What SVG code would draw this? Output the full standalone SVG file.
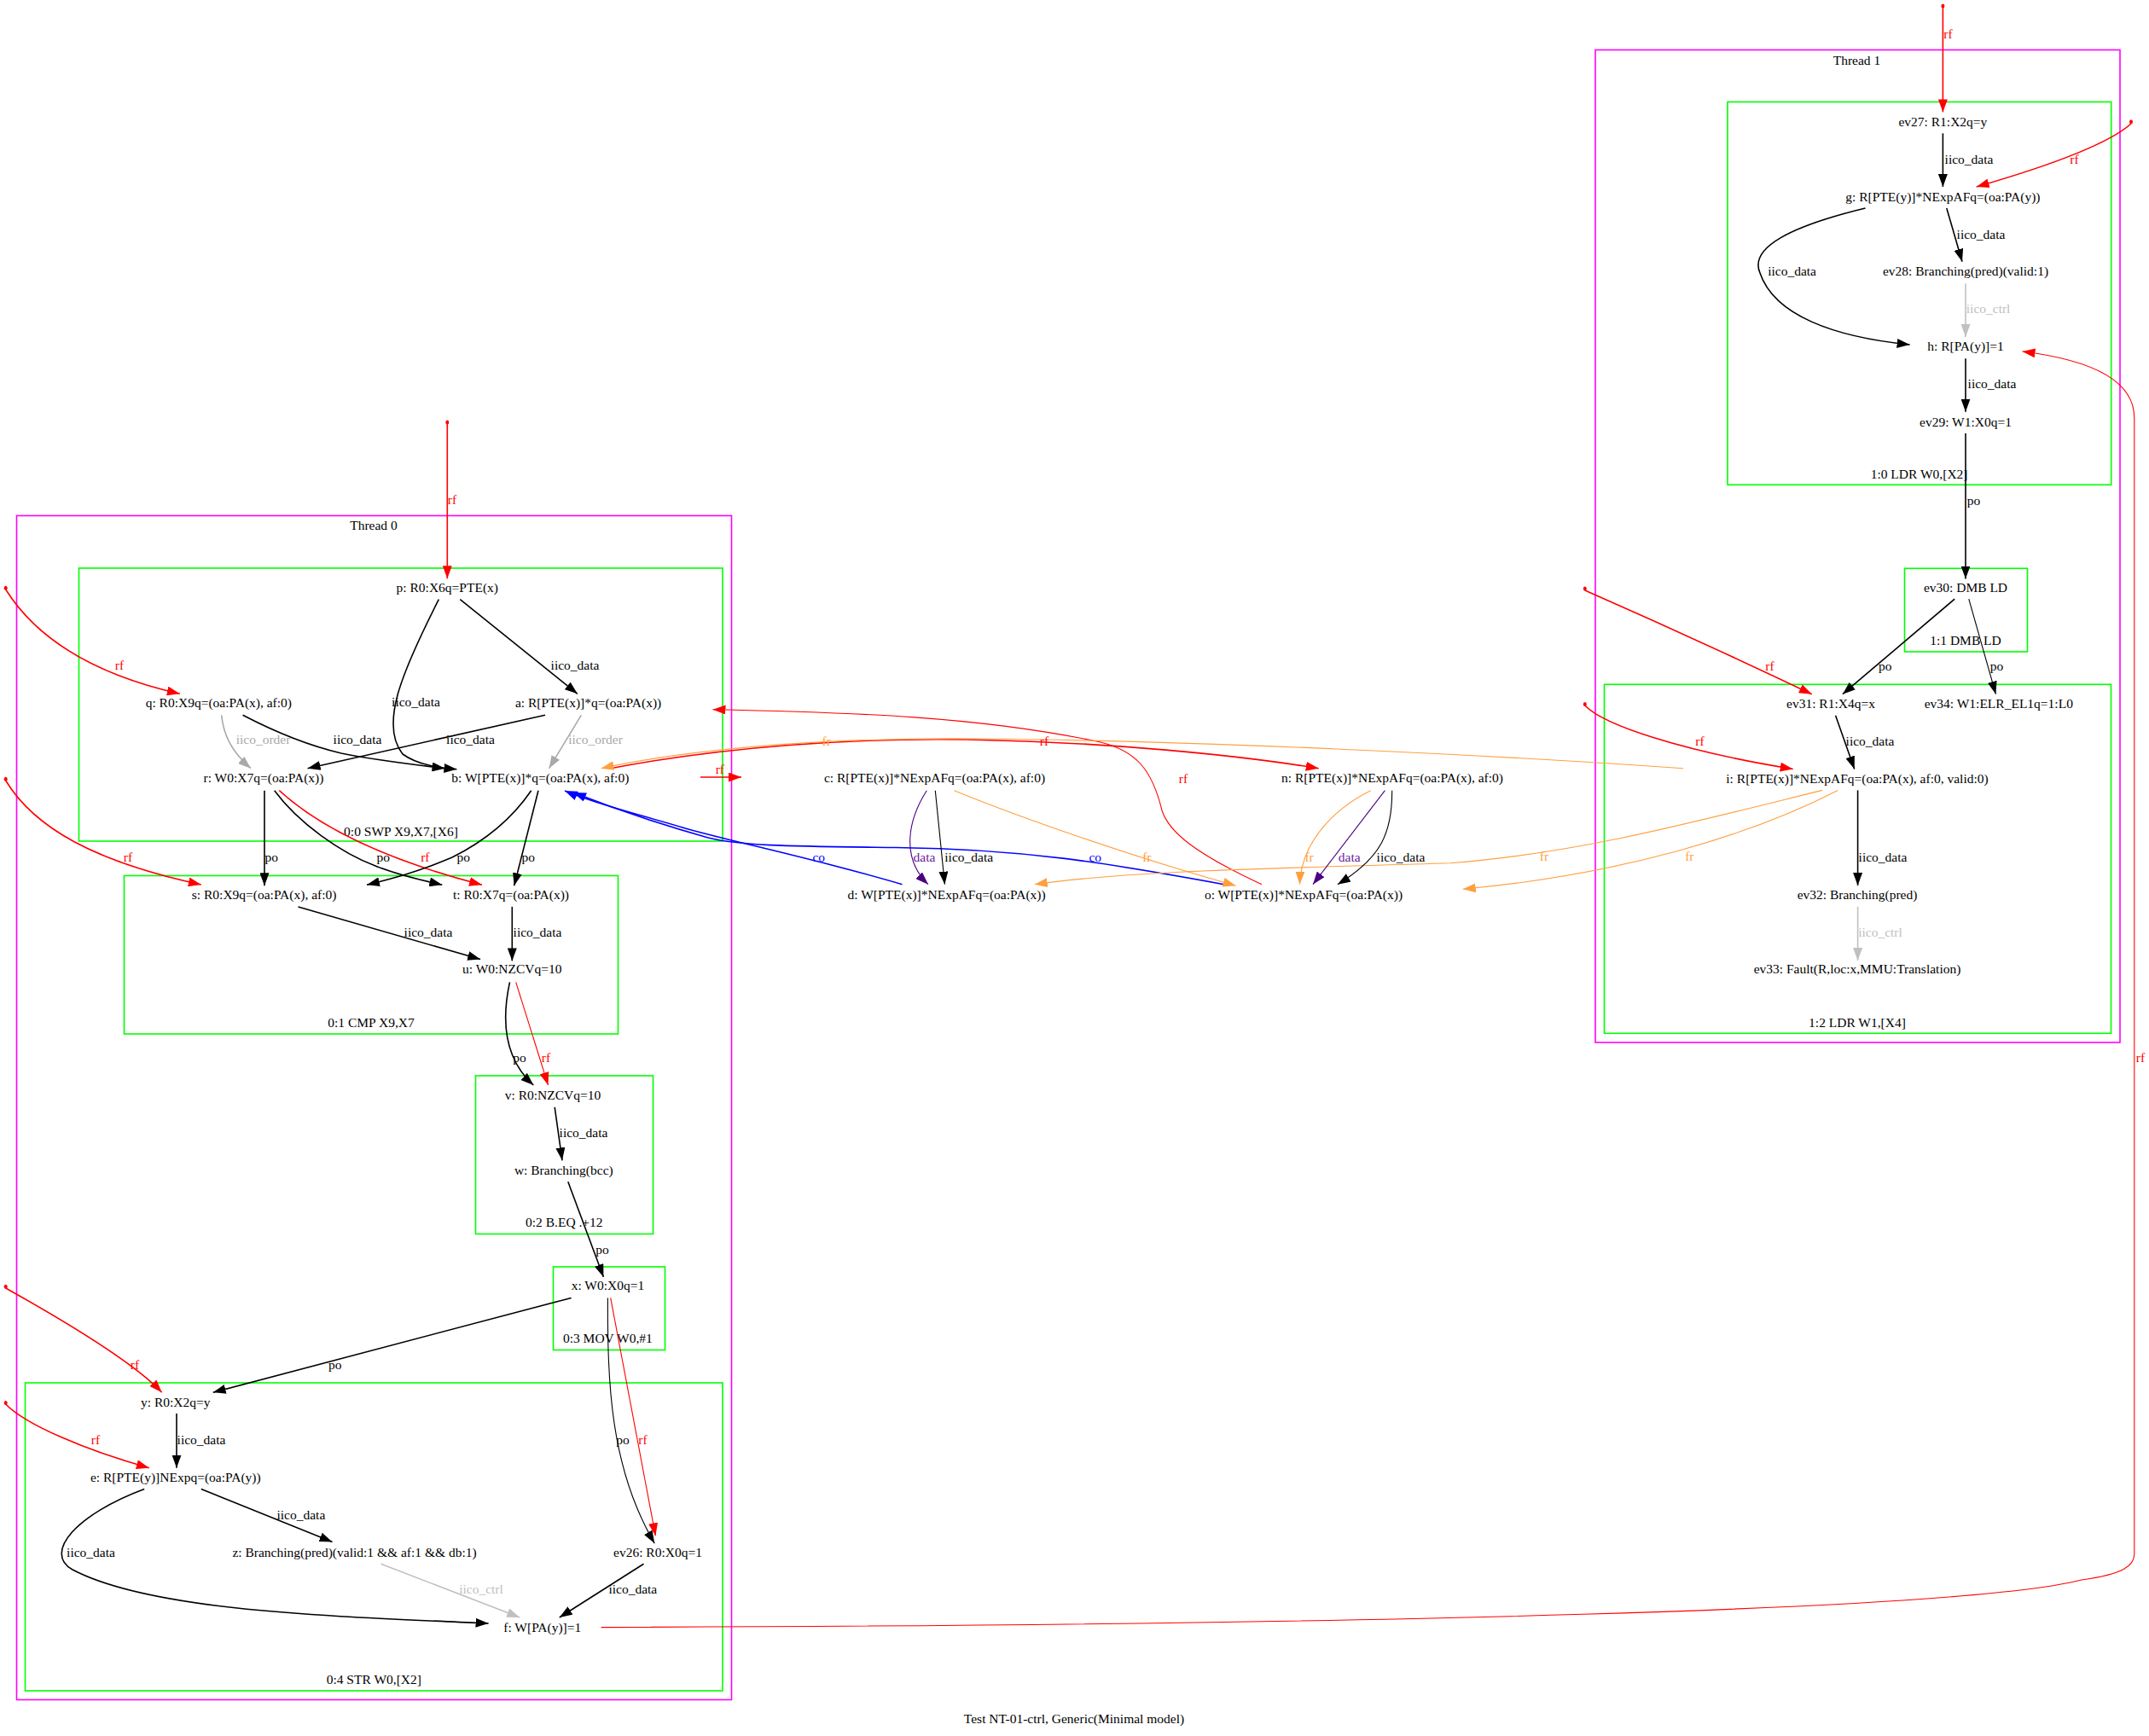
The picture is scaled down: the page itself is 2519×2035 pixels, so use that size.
<svg xmlns="http://www.w3.org/2000/svg" width="2519" height="2035" viewBox="0 0 2519 2035">
<style>
text{font-family:"Liberation Serif","Times New Roman",serif;font-size:15.5px;text-anchor:middle;fill:#000}
.cl{fill:none;stroke-width:1.6}
.th{stroke:#ff00ff}
.in{stroke:#00ff00}
.e{fill:none;stroke-width:1.6}
.thin{stroke-width:1.1}
.k{stroke:#000}
.r{stroke:#ff0000}
.g{stroke:#a9a9a9}
.l{stroke:#c0c0c0}
.o{stroke:#ff9f40}
.p{stroke:#4b0082}
.b{stroke:#0000ff}
.tr{fill:#ff0000}
.tg{fill:#a9a9a9}
.tl{fill:#c0c0c0}
.to{fill:#ff9f40}
.tp{fill:#6a1b9a}
.tb{fill:#0000ff}
.dot{fill:#ff0000}
</style>
<defs>
<marker id="ak" viewBox="0 0 15 11" refX="15" refY="5.5" markerWidth="15" markerHeight="11" markerUnits="userSpaceOnUse" orient="auto"><path d="M0,0 L15,5.5 L0,11 z" fill="#000"/></marker>
<marker id="ar" viewBox="0 0 15 11" refX="15" refY="5.5" markerWidth="15" markerHeight="11" markerUnits="userSpaceOnUse" orient="auto"><path d="M0,0 L15,5.5 L0,11 z" fill="#ff0000"/></marker>
<marker id="ag" viewBox="0 0 15 11" refX="15" refY="5.5" markerWidth="15" markerHeight="11" markerUnits="userSpaceOnUse" orient="auto"><path d="M0,0 L15,5.5 L0,11 z" fill="#a9a9a9"/></marker>
<marker id="al" viewBox="0 0 15 11" refX="15" refY="5.5" markerWidth="15" markerHeight="11" markerUnits="userSpaceOnUse" orient="auto"><path d="M0,0 L15,5.5 L0,11 z" fill="#c0c0c0"/></marker>
<marker id="ao" viewBox="0 0 15 11" refX="15" refY="5.5" markerWidth="15" markerHeight="11" markerUnits="userSpaceOnUse" orient="auto"><path d="M0,0 L15,5.5 L0,11 z" fill="#ff9f40"/></marker>
<marker id="ap" viewBox="0 0 15 11" refX="15" refY="5.5" markerWidth="15" markerHeight="11" markerUnits="userSpaceOnUse" orient="auto"><path d="M0,0 L15,5.5 L0,11 z" fill="#4b0082"/></marker>
<marker id="ab" viewBox="0 0 15 11" refX="15" refY="5.5" markerWidth="15" markerHeight="11" markerUnits="userSpaceOnUse" orient="auto"><path d="M0,0 L15,5.5 L0,11 z" fill="#0000ff"/></marker>
</defs>
<rect width="2519" height="2035" fill="#fff"/>

<g id="clusters">
<g id="thread0"><rect class="cl th" x="19.5" y="604.5" width="838" height="1388"/><text x="438" y="621">Thread 0</text></g>
<g id="c0_0"><rect class="cl in" x="92.5" y="666" width="754.5" height="320"/><text x="470" y="980">0:0 SWP X9,X7,[X6]</text></g>
<g id="c0_1"><rect class="cl in" x="145.5" y="1026.5" width="579" height="185.5"/><text x="435" y="1203.5">0:1 CMP X9,X7</text></g>
<g id="c0_2"><rect class="cl in" x="557.5" y="1261" width="208" height="185.5"/><text x="661.3" y="1437.8">0:2 B.EQ .+12</text></g>
<g id="c0_3"><rect class="cl in" x="648.5" y="1485" width="131" height="97.5"/><text x="712.4" y="1573.5">0:3 MOV W0,#1</text></g>
<g id="c0_4"><rect class="cl in" x="29.5" y="1621" width="817.5" height="361"/><text x="438.3" y="1973.5">0:4 STR W0,[X2]</text></g>
<g id="thread1"><rect class="cl th" x="1870" y="58.5" width="615" height="1163.5"/><text x="2176.5" y="75.6">Thread 1</text></g>
<g id="c1_0"><rect class="cl in" x="2025" y="119.5" width="449.7" height="448.8"/><text x="2249.6" y="560.7">1:0 LDR W0,[X2]</text></g>
<g id="c1_1"><rect class="cl in" x="2232.5" y="666.3" width="144" height="97.7"/><text x="2304" y="755.5">1:1 DMB LD</text></g>
<g id="c1_2"><rect class="cl in" x="1880.5" y="802.3" width="594" height="409"/><text x="2177" y="1203.5">1:2 LDR W1,[X4]</text></g>
</g>

<g id="edges">
<g id="sources">
<ellipse class="dot" cx="524.3" cy="495" rx="2" ry="2.5"/>
<ellipse class="dot" cx="6.7" cy="689.3" rx="2" ry="2.5"/>
<ellipse class="dot" cx="6.7" cy="913.3" rx="2" ry="2.5"/>
<ellipse class="dot" cx="6.7" cy="1508.3" rx="2" ry="2.5"/>
<ellipse class="dot" cx="6.7" cy="1644.6" rx="2" ry="2.5"/>
<ellipse class="dot" cx="2277.4" cy="7" rx="2" ry="2.5"/>
<ellipse class="dot" cx="2498" cy="142.8" rx="2" ry="2.5"/>
<ellipse class="dot" cx="1857.8" cy="690" rx="2" ry="2.5"/>
<ellipse class="dot" cx="1857.8" cy="825.6" rx="2" ry="2.5"/>
</g>
<!-- Thread 0 -->
<path class="e r" marker-end="url(#ar)" d="M524.3,497 L524.3,678.3"/>
<path class="e k" marker-end="url(#ak)" d="M539.3,702.7 L676.9,813.3"/>
<path class="e k" marker-end="url(#ak)" d="M514.3,702.7 C470,790 445,850 472,884 C490,897 515,900 535.4,901.7"/>
<path class="e r" marker-end="url(#ar)" d="M6.7,691 C50,760 130,795 210.8,813.3"/>
<path class="e k" marker-end="url(#ak)" d="M284.6,838.3 C330,862 370,876 400,883 C440,891 490,897 521.5,900.7"/>
<path class="e k" marker-end="url(#ak)" d="M639,838.3 L360.6,900.7"/>
<path class="e g" marker-end="url(#ag)" d="M259.6,838.3 C262,860 270,880 294,900.7"/>
<path class="e g" marker-end="url(#ag)" d="M681.3,838.3 L643.6,900.7"/>
<path class="e r" marker-end="url(#ar)" d="M821,911 L869,911"/>
<path class="e k" marker-end="url(#ak)" d="M310,926.7 L310,1038.3"/>
<path class="e k" marker-end="url(#ak)" d="M321.7,926.7 C350,965 400,1000 440,1015 C470,1027 500,1033 518.3,1037.3"/>
<path class="e r" marker-end="url(#ar)" d="M327.3,926.7 C380,975 460,1010 565,1037.3"/>
<path class="e k" marker-end="url(#ak)" d="M622.7,926.7 C600,960 570,985 530,1005 C490,1022 460,1030 430,1037.3"/>
<path class="e k" marker-end="url(#ak)" d="M631,926.7 L602.7,1038.3"/>
<path class="e r" marker-end="url(#ar)" d="M6.7,915 C40,970 110,1010 235.8,1037"/>
<path class="e k" marker-end="url(#ak)" d="M349.5,1062.9 L563.1,1124.6"/>
<path class="e k" marker-end="url(#ak)" d="M600.3,1062.9 L600.3,1126.4"/>
<path class="e k" marker-end="url(#ak)" d="M597.5,1151.4 C588,1195 590,1240 625.3,1272"/>
<path class="e r thin" marker-end="url(#ar)" d="M604.7,1151.4 L642.5,1272"/>
<path class="e k" marker-end="url(#ak)" d="M650.2,1297.8 L659,1360.3"/>
<path class="e k" marker-end="url(#ak)" d="M665.8,1385.3 L707.4,1497"/>
<path class="e k" marker-end="url(#ak)" d="M669.6,1521.4 L249.7,1632.2"/>
<path class="e r" marker-end="url(#ar)" d="M6.7,1510 Q150,1590 189.7,1632.2"/>
<path class="e r" marker-end="url(#ar)" d="M6.7,1646 C30,1670 100,1700 174.8,1720.7"/>
<path class="e k" marker-end="url(#ak)" d="M207,1657 L207,1720.7"/>
<path class="e k" marker-end="url(#ak)" d="M235.8,1745.5 L389.5,1807.5"/>
<path class="e k" marker-end="url(#ak)" d="M169.2,1745.5 C90,1775 50,1820 85,1840 C180,1890 400,1895 572.6,1903"/>
<path class="e l" marker-end="url(#al)" d="M446.6,1833.3 L609.2,1896"/>
<path class="e k" marker-end="url(#ak)" d="M754.5,1833.3 L655.8,1896"/>
<path class="e k thin" marker-end="url(#ak)" d="M712.4,1521.4 C712,1620 715,1720 767.3,1809.2"/>
<path class="e r thin" marker-end="url(#ar)" d="M715.7,1521.4 L768.4,1800.4"/>
<path class="e r thin" marker-end="url(#ar)" d="M704.6,1907.6 C1600,1905 2300,1888 2440,1852 C2490,1845 2501.8,1835 2501.8,1821.6 L2501.8,490 C2501.8,450 2460,423 2370.5,412"/>
<!-- Thread 1 -->
<path class="e r" marker-end="url(#ar)" d="M2277.4,9 L2277.4,131.4"/>
<path class="e k" marker-end="url(#ak)" d="M2277.4,156.3 L2277.4,219"/>
<path class="e r" marker-end="url(#ar)" d="M2498,145 C2470,170 2400,195 2316.7,219"/>
<path class="e k" marker-end="url(#ak)" d="M2281.8,244 L2300,306.8"/>
<path class="e k" marker-end="url(#ak)" d="M2186.5,244 C2100,265 2050,290 2063,320 C2080,370 2150,395 2238.6,404"/>
<path class="e l" marker-end="url(#al)" d="M2304,332.5 L2304,395"/>
<path class="e k" marker-end="url(#ak)" d="M2304,420.2 L2304,482.7"/>
<path class="e k" marker-end="url(#ak)" d="M2304,508 L2304,678.5"/>
<path class="e k" marker-end="url(#ak)" d="M2291.2,702.2 L2159.9,813.7"/>
<path class="e k thin" marker-end="url(#ak)" d="M2307.8,702.2 L2339.4,813.7"/>
<path class="e r" marker-end="url(#ar)" d="M1857.8,692 Q1990,750 2123.8,813.7"/>
<path class="e r" marker-end="url(#ar)" d="M1857.8,827 C1880,850 1970,880 2101.7,901.5"/>
<path class="e k" marker-end="url(#ak)" d="M2151.6,838.7 L2173.7,901.5"/>
<path class="e k" marker-end="url(#ak)" d="M2177.6,926.4 L2177.6,1038"/>
<path class="e l" marker-end="url(#al)" d="M2177.6,1062.8 L2177.6,1126"/>
<!-- between threads -->
<path class="e r thin" marker-end="url(#ar)" d="M1479,1036.7 C1400,1000 1370,975 1362,950 C1350,900 1330,880 1290,870 C1150,840 1000,835 835.5,831.7"/>
<path class="e r" marker-end="url(#ar)" d="M715.7,900.7 C850,875 1000,865 1135,867 C1300,870 1450,885 1545.7,900.7"/>
<path class="e o thin" marker-end="url(#ao)" d="M1973,900.7 C1750,885 1400,868 1150,866 C950,864 800,880 704.6,900.7"/>
<path class="e b" marker-end="url(#ab)" d="M1057.5,1036.7 C950,1005 850,985 800,970 C750,955 700,943 662,927"/>
<path class="e b" marker-end="url(#ab)" d="M1434.7,1036.7 C1300,1012 1200,995 1050,993.5 C930,992 870,992 830,982 C780,968 720,948 672,929"/>
<path class="e o thin" marker-end="url(#ao)" d="M1118.5,926.7 C1200,960 1330,1005 1448.6,1038.3"/>
<path class="e o thin" marker-end="url(#ao)" d="M2136,926.4 C1980,965 1850,1000 1700,1011.7 C1500,1018 1330,1020 1212.8,1036.7"/>
<path class="e o thin" marker-end="url(#ao)" d="M2154.3,926.4 C2050,980 1900,1025 1714.8,1042.3"/>
<path class="e o thin" marker-end="url(#ao)" d="M1606.7,926.7 C1560,950 1525,990 1523.5,1036.7"/>
<path class="e p thin" marker-end="url(#ap)" d="M1623.4,926.7 L1539,1036.7"/>
<path class="e k thin" marker-end="url(#ak)" d="M1631.7,926.7 C1632,975 1620,1005 1567.9,1036.7"/>
<path class="e p thin" marker-end="url(#ap)" d="M1086.3,926.7 C1065,960 1055,1005 1088,1036.7"/>
<path class="e k thin" marker-end="url(#ak)" d="M1096.3,926.7 L1107.4,1036.7"/>

<g id="edge-labels">
<text class="tr" x="530" y="591">rf</text>
<text x="674" y="784.5">iico_data</text>
<text x="487.5" y="828">iico_data</text>
<text class="tr" x="140" y="784.5">rf</text>
<text class="tg" x="308.5" y="872">iico_order</text>
<text x="419" y="872">iico_data</text>
<text x="551.5" y="872">iico_data</text>
<text class="tg" x="698" y="872">iico_order</text>
<text class="tr" x="843.8" y="906.7">rf</text>
<text x="318.3" y="1010">po</text>
<text x="449.3" y="1010">po</text>
<text class="tr" x="498.3" y="1010">rf</text>
<text x="543.3" y="1010">po</text>
<text x="619.3" y="1010">po</text>
<text class="tr" x="150" y="1010">rf</text>
<text x="502" y="1097.8">iico_data</text>
<text x="630" y="1097.8">iico_data</text>
<text x="609" y="1245">po</text>
<text class="tr" x="640" y="1245">rf</text>
<text x="684" y="1332.5">iico_data</text>
<text x="706" y="1469.6">po</text>
<text x="392.8" y="1605.4">po</text>
<text class="tr" x="158" y="1604.7">rf</text>
<text class="tr" x="112" y="1692.8">rf</text>
<text x="236" y="1692.8">iico_data</text>
<text x="730" y="1692.8">po</text>
<text class="tr" x="753.4" y="1692.8">rf</text>
<text x="352.9" y="1781">iico_data</text>
<text x="106.5" y="1824.8">iico_data</text>
<text class="tl" x="564" y="1868.4">iico_ctrl</text>
<text x="741.8" y="1868.4">iico_data</text>
<text class="to" x="968.7" y="874.3">fr</text>
<text class="tr" x="1224" y="874.3">rf</text>
<text class="tr" x="1387" y="917.7">rf</text>
<text class="tb" x="959.8" y="1010">co</text>
<text class="tp" x="1083.5" y="1010">data</text>
<text x="1135.7" y="1010">iico_data</text>
<text class="tb" x="1283.8" y="1010">co</text>
<text class="to" x="1344.3" y="1010">fr</text>
<text class="to" x="1534.6" y="1010">fr</text>
<text class="tp" x="1581.7" y="1010">data</text>
<text x="1642" y="1010">iico_data</text>
<text class="tr" x="2283.5" y="44.6">rf</text>
<text x="2308" y="191.5">iico_data</text>
<text class="tr" x="2431.4" y="191.5">rf</text>
<text x="2322" y="279.6">iico_data</text>
<text x="2100.6" y="323.2">iico_data</text>
<text class="tl" x="2330.6" y="367.3">iico_ctrl</text>
<text x="2335" y="455.4">iico_data</text>
<text x="2313.4" y="591.7">po</text>
<text x="2209.7" y="786">po</text>
<text x="2340.5" y="786">po</text>
<text class="tr" x="2074.5" y="786">rf</text>
<text class="tr" x="1992.5" y="873.7">rf</text>
<text x="2192" y="873.7">iico_data</text>
<text class="to" x="1810" y="1009.3">fr</text>
<text class="to" x="1980.3" y="1009.3">fr</text>
<text x="2207" y="1009.7">iico_data</text>
<text class="tl" x="2204" y="1097.5">iico_ctrl</text>
<text class="tr" x="2509" y="1245">rf</text>
</g>
</g>

<g id="nodes">
<g id="p"><text x="524.3" y="693.5">p: R0:X6q=PTE(x)</text></g>
<g id="q"><text x="256.3" y="829">q: R0:X9q=(oa:PA(x), af:0)</text></g>
<g id="a"><text x="689.6" y="829">a: R[PTE(x)]*q=(oa:PA(x))</text></g>
<g id="r"><text x="309" y="917">r: W0:X7q=(oa:PA(x))</text></g>
<g id="b"><text x="633.3" y="917">b: W[PTE(x)]*q=(oa:PA(x), af:0)</text></g>
<g id="c"><text x="1095.5" y="917">c: R[PTE(x)]*NExpAFq=(oa:PA(x), af:0)</text></g>
<g id="n"><text x="1632" y="917">n: R[PTE(x)]*NExpAFq=(oa:PA(x), af:0)</text></g>
<g id="d"><text x="1109.6" y="1053.6">d: W[PTE(x)]*NExpAFq=(oa:PA(x))</text></g>
<g id="o"><text x="1528" y="1053.6">o: W[PTE(x)]*NExpAFq=(oa:PA(x))</text></g>
<g id="s"><text x="309.6" y="1053.6">s: R0:X9q=(oa:PA(x), af:0)</text></g>
<g id="t"><text x="599" y="1053.6">t: R0:X7q=(oa:PA(x))</text></g>
<g id="u"><text x="600.3" y="1141.4">u: W0:NZCVq=10</text></g>
<g id="v"><text x="648" y="1288.5">v: R0:NZCVq=10</text></g>
<g id="w"><text x="660.8" y="1376.7">w: Branching(bcc)</text></g>
<g id="x"><text x="712.4" y="1512.4">x: W0:X0q=1</text></g>
<g id="y"><text x="205.8" y="1649">y: R0:X2q=y</text></g>
<g id="e"><text x="205.8" y="1736.7">e: R[PTE(y)]NExpq=(oa:PA(y))</text></g>
<g id="z"><text x="415.5" y="1824.8">z: Branching(pred)(valid:1 &amp;&amp; af:1 &amp;&amp; db:1)</text></g>
<g id="ev26"><text x="771" y="1824.8">ev26: R0:X0q=1</text></g>
<g id="f"><text x="635.8" y="1912.6">f: W[PA(y)]=1</text></g>
<g id="ev27"><text x="2277.4" y="147.8">ev27: R1:X2q=y</text></g>
<g id="g"><text x="2277.4" y="236">g: R[PTE(y)]*NExpAFq=(oa:PA(y))</text></g>
<g id="ev28"><text x="2304" y="323.2">ev28: Branching(pred)(valid:1)</text></g>
<g id="h"><text x="2304" y="411.4">h: R[PA(y)]=1</text></g>
<g id="ev29"><text x="2304" y="499.5">ev29: W1:X0q=1</text></g>
<g id="ev30"><text x="2304" y="693.8">ev30: DMB LD</text></g>
<g id="ev31"><text x="2146" y="829.8">ev31: R1:X4q=x</text></g>
<g id="ev34"><text x="2342.8" y="829.8">ev34: W1:ELR_EL1q=1:L0</text></g>
<g id="i"><text x="2177" y="917.6">i: R[PTE(x)]*NExpAFq=(oa:PA(x), af:0, valid:0)</text></g>
<g id="ev32"><text x="2177" y="1053.6">ev32: Branching(pred)</text></g>
<g id="ev33"><text x="2177" y="1141.4">ev33: Fault(R,loc:x,MMU:Translation)</text></g>
</g>

<text id="caption" x="1259" y="2020">Test NT-01-ctrl, Generic(Minimal model)</text>
</svg>
